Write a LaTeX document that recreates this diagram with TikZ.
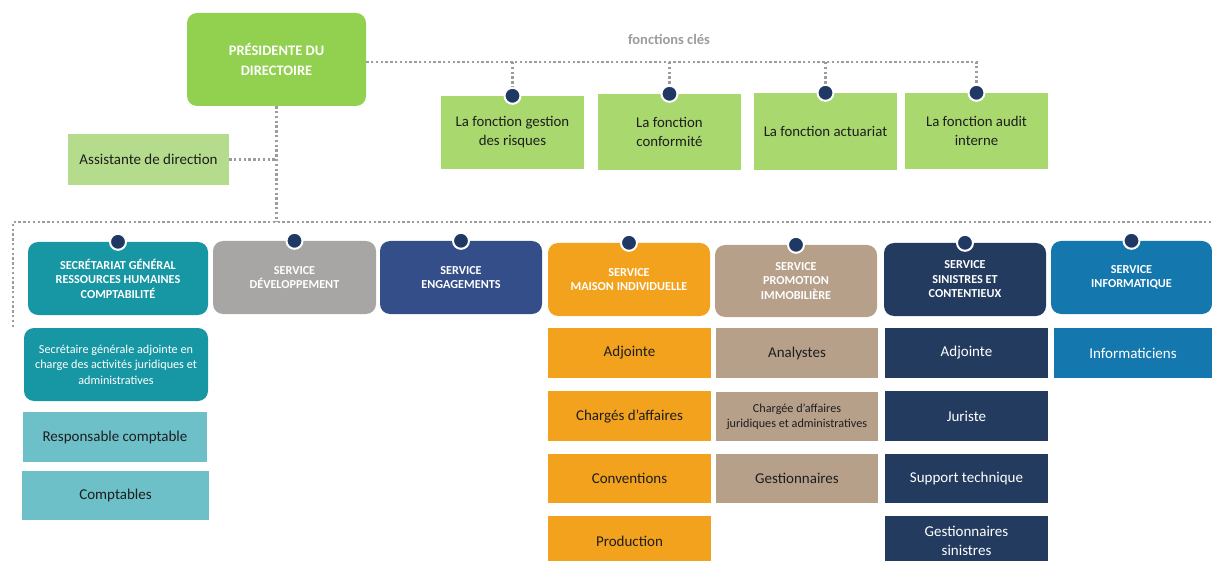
\documentclass[tikz,border=0pt]{standalone}
\usepackage{fontspec}
\setmainfont{Carlito}
\definecolor{presgreen}{HTML}{92D050}
\definecolor{fgreen}{HTML}{A9D86E}
\definecolor{agreen}{HTML}{B4DC8C}
\definecolor{teal}{HTML}{1796A3}
\definecolor{lteal}{HTML}{6DBFC8}
\definecolor{sgray}{HTML}{A8A5A5}
\definecolor{engblue}{HTML}{344E8A}
\definecolor{orng}{HTML}{F3A21D}
\definecolor{tan}{HTML}{B6A08A}
\definecolor{navy}{HTML}{233B5E}
\definecolor{infoblue}{HTML}{1478AE}
\definecolor{hubnavy}{HTML}{1F3864}
\definecolor{linegray}{HTML}{9C9C9C}
\definecolor{ink}{HTML}{1E1E1E}
\begin{document}
\begin{tikzpicture}[x=1pt,y=-1pt,
  box/.style={inner sep=2pt, align=center, anchor=center},
  pres/.style={box, fill=presgreen, rounded corners=10pt, text=white,
    font=\fontsize{14.5}{20}\selectfont\bfseries},
  func/.style={box, fill=fgreen, text=ink, font=\fontsize{14.8}{19}\selectfont},
  head/.style={box, rounded corners=10pt, text=white,
    font=\fontsize{12.2}{14.5}\selectfont\bfseries},
  sub/.style={box, text=ink, font=\fontsize{15}{18.5}\selectfont},
  subw/.style={sub, text=white},
  small/.style={font=\fontsize{12.2}{15.5}\selectfont},
  link/.style={draw=linegray, line width=2.8pt, dash pattern=on 2.4pt off 2.4pt},
  hub/.style={circle, fill=hubnavy, draw=white, line width=2pt,
    minimum size=16pt, inner sep=0pt}
]
\useasboundingbox (0,0) rectangle (1212,561);
\clip (0,0) rectangle (1212,561);

% top management
\node[pres, minimum width=179pt, minimum height=93pt] (pres) at (276.5,59.5)
  {PRÉSIDENTE DU\\DIRECTOIRE};
\node[box, fill=agreen, text=ink, font=\fontsize{15}{18}\selectfont,
  minimum width=161pt, minimum height=51pt] (asst) at (148.5,159.5)
  {Assistante de direction};

% key functions
\node[box, text=linegray, font=\fontsize{14.5}{17}\selectfont\bfseries]
  (fcl) at (669,39) {fonctions clés};
\node[func, minimum width=143pt, minimum height=73pt] (f1) at (512.5,132.5)
  {La fonction gestion\\des risques};
\node[func, minimum width=143pt, minimum height=76pt] (f2) at (669.5,132)
  {La fonction\\conformité};
\node[func, minimum width=143pt, minimum height=77pt] (f3) at (825.5,131.5)
  {La fonction actuariat};
\node[func, minimum width=143pt, minimum height=76pt] (f4) at (976.5,131)
  {La fonction audit\\interne};

% services
\node[head, fill=teal, minimum width=180pt, minimum height=73pt] (s1) at (118,278.5)
  {SECRÉTARIAT GÉNÉRAL\\RESSOURCES HUMAINES\\COMPTABILITÉ};
\node[head, fill=sgray, minimum width=163pt, minimum height=73pt] (s2) at (294.5,277.5)
  {SERVICE\\DÉVELOPPEMENT};
\node[head, fill=engblue, minimum width=162pt, minimum height=73pt] (s3) at (461,277.5)
  {SERVICE\\ENGAGEMENTS};
\node[head, fill=orng, minimum width=162pt, minimum height=73pt] (s4) at (629,279.5)
  {SERVICE\\MAISON INDIVIDUELLE};
\node[head, fill=tan, minimum width=162pt, minimum height=72pt] (s5) at (796,281)
  {SERVICE\\PROMOTION\\IMMOBILIÈRE};
\node[head, fill=navy, minimum width=162pt, minimum height=73pt] (s6) at (965,279.5)
  {SERVICE\\SINISTRES ET\\CONTENTIEUX};
\node[head, fill=infoblue, minimum width=161pt, minimum height=73pt] (s7) at (1131.5,277.5)
  {SERVICE\\INFORMATIQUE};

% secrétariat général
\node[subw, small, fill=teal, rounded corners=10pt, minimum width=184pt, minimum height=73pt]
  (c1a) at (116,364.5)
  {Secrétaire générale adjointe en\\charge des activités juridiques et\\administratives};
\node[sub, fill=lteal, minimum width=184pt, minimum height=50pt] (c1b) at (115,437)
  {Responsable comptable};
\node[sub, fill=lteal, minimum width=187pt, minimum height=49pt] (c1c) at (115.5,495.5)
  {Comptables};

% maison individuelle
\node[sub, fill=orng, minimum width=163pt, minimum height=50pt] (c4a) at (629.5,353) {Adjointe};
\node[sub, fill=orng, minimum width=163pt, minimum height=50pt] (c4b) at (629.5,416) {Chargés d’affaires};
\node[sub, fill=orng, minimum width=163pt, minimum height=49pt] (c4c) at (629.5,478.5) {Conventions};
\node[sub, fill=orng, minimum width=163pt, minimum height=50pt] (c4d) at (629.5,541) {Production};

% promotion immobilière
\node[sub, fill=tan, minimum width=162pt, minimum height=50pt] (c5a) at (797,353) {Analystes};
\node[sub, small, fill=tan, minimum width=162pt, minimum height=49pt] (c5b) at (797,416.5)
  {Chargée d’affaires\\juridiques et administratives};
\node[sub, fill=tan, minimum width=162pt, minimum height=49pt] (c5c) at (797,478.5) {Gestionnaires};

% sinistres et contentieux
\node[subw, fill=navy, minimum width=163pt, minimum height=50pt] (c6a) at (966.5,353) {Adjointe};
\node[subw, fill=navy, minimum width=163pt, minimum height=50pt] (c6b) at (966.5,416) {Juriste};
\node[subw, fill=navy, minimum width=163pt, minimum height=49pt] (c6c) at (966.5,478.5) {Support technique};
\node[subw, fill=navy, minimum width=163pt, minimum height=50pt] (c6d) at (966.5,541)
  {Gestionnaires\\sinistres};

% informatique
\node[subw, fill=infoblue, minimum width=158pt, minimum height=50pt] (c7a) at (1133,353) {Informaticiens};

% dotted connectors
\coordinate (fk) at (976.5,62);
\coordinate (busL) at (13,222);
\coordinate (busR) at (1212,222);
\coordinate (busEnd) at (13,327);
\draw[link] (pres.east |- fk) -- (fk) -- (f4.north);
\draw[link] (f1.north |- fk) -- (f1.north);
\draw[link] (f2.north |- fk) -- (f2.north);
\draw[link] (f3.north |- fk) -- (f3.north);
\draw[link] (pres.south) -- (pres.south |- busL);
\draw[link] (asst.east) -- (asst.east -| pres.south);
\draw[link] (busEnd) -- (busL) -- (busR);

% hub dots
\foreach \n in {f1,f2,f3,f4,s1,s2,s3,s4,s5,s6,s7}
  \node[hub] at (\n.north) {};
\end{tikzpicture}
\end{document}
